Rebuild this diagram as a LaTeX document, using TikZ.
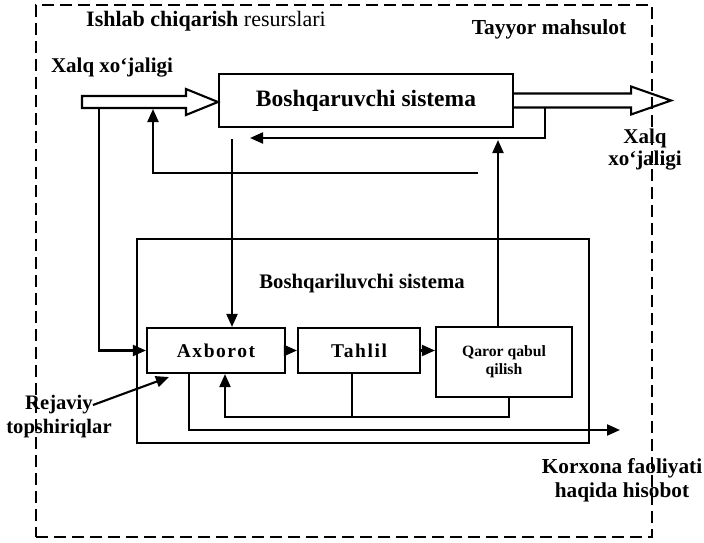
\documentclass[tikz,border=0pt]{standalone}
\usepackage{fontspec}
\setmainfont{Liberation Serif}
\usetikzlibrary{arrows.meta,calc}
\begin{document}
\begin{tikzpicture}[x=1pt,y=-1pt,
  ln/.style={line width=2.1pt},
  arr/.style={line width=2.1pt,-{Triangle[length=13pt,width=11pt]}},
  box/.style={draw,line width=2.1pt,inner sep=0pt,fill=white},
  hollow/.style={draw,line width=2.1pt,line join=miter},
  lbl/.style={inner sep=0pt,font=\bfseries\fontsize{21}{24}\selectfont,align=center},
  dashbox/.style={draw,line width=2.1pt,dash pattern=on 12pt off 6pt,inner sep=0pt}
]
\useasboundingbox (0,0) rectangle (704,543);

% boxes
\node[box,minimum width=294pt,minimum height=53pt,font=\bfseries\fontsize{23.5}{26}\selectfont] (Bq) at (366,100.5) {Boshqaruvchi sistema};
\node[box,minimum width=452pt,minimum height=204pt,fill=none] (Bl) at (363,341) {};
\node[lbl,font=\bfseries\fontsize{20.7}{24}\selectfont] (Bltxt) at (362,284) {Boshqariluvchi sistema};
\node[box,minimum width=138pt,minimum height=45pt,font=\bfseries\fontsize{19.5}{22}\selectfont\addfontfeature{LetterSpace=8}] (Ax) at (216,350.5) {Axborot};
\node[box,minimum width=122pt,minimum height=45pt,font=\bfseries\fontsize{19.5}{22}\selectfont\addfontfeature{LetterSpace=8}] (Ta) at (359,350.5) {Tahlil};
\node[box,minimum width=136pt,minimum height=70pt,align=center,font=\bfseries\fontsize{15.7}{18}\selectfont] (Qa) at (504,362) {Qaror qabul\\qilish};

% labels
\node[inner sep=0pt,font=\fontsize{22}{24}\selectfont] (res) at (206,21) {\textbf{Ishlab chiqarish} resurslari};
\node[lbl,font=\bfseries\fontsize{21.4}{24}\selectfont] (tayyor) at (549,29) {Tayyor mahsulot};
\node[lbl] (xalq1) at (112,68) {Xalq xo‘jaligi};
\node[lbl,font=\bfseries\fontsize{21}{22}\selectfont] (xalq2) at (645,150) {Xalq\\xo‘jaligi};
\node[lbl,font=\bfseries\fontsize{21.3}{24}\selectfont] (korx) at (622,480) {Korxona faoliyati\\haqida hisobot};
\node[lbl,font=\bfseries\fontsize{20.6}{24}\selectfont] (rej1) at (59,405) {Rejaviy};
\node[lbl,font=\bfseries\fontsize{20.6}{24}\selectfont] (rej2) at (59,429) {topshiriqlar};

% hollow arrows
\draw[hollow] ($(Bq.west)+(0,1.5)$) -- ++(-32,-13) -- ++(0,7) -- ++(-104,0) -- ++(0,12) -- ++(104,0) -- ++(0,7) -- cycle;
\draw[hollow] ($(Bq.east)+(0,-7)$) -- ++(117,0) -- ++(0,-7) -- ++(40,14) -- ++(-40,14) -- ++(0,-7) -- ++(-117,0);

% named free ends
\coordinate (fb1s) at (545,108);
\coordinate (fb1e) at (250,138);
\coordinate (fb2s) at (478,173);
\coordinate (fb2e) at (153,109);
\coordinate (dn) at (232,139);
\coordinate (lin) at (99,109);
\coordinate (up) at (498,140);
\coordinate (fb3) at (509,417);
\coordinate (axx) at (225,417);
\coordinate (taj) at (352,417);
\coordinate (outS) at (189,373);
\coordinate (outE) at (620,430);
\coordinate (rejE) at ($(Ax.south west)+(23,3)$);

% connectors
\draw[arr] (fb1s) |- (fb1e);
\draw[arr] (fb2s) -| (fb2e);
\draw[arr] (dn) -- (dn |- Ax.north);
\draw[arr] (lin) |- (Ax.west);
\draw[arr] (up |- Qa.north) -- (up);
\draw[arr] (Ax.east) -- (Ta.west);
\draw[arr] (Ta.east) -- (Ta.east -| Qa.west);
\draw[arr] (fb3 |- Qa.south) -- (fb3) -- (axx) -- (axx |- Ax.south);
\draw[ln] (taj |- Ta.south) -- (taj);
\draw[arr] (outS) |- (outE);
\draw[arr] (rej1.east) -- (rejE);

% outer dashed frame
\node[dashbox,minimum width=616pt,minimum height=532pt] (outer) at (344,271) {};
\end{tikzpicture}
\end{document}
